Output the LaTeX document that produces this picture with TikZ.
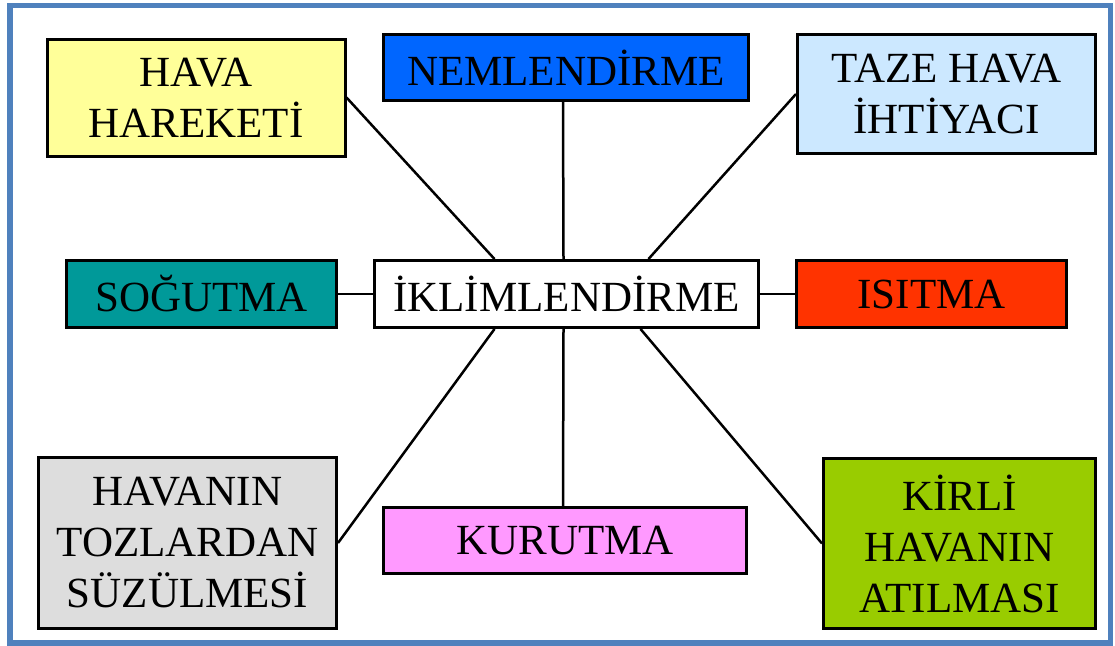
\documentclass[tikz,border=0pt]{standalone}
\usepackage{fontspec}
\setmainfont{Liberation Serif}
\usetikzlibrary{positioning}
\definecolor{framecol}{HTML}{4F81BD}
\definecolor{yel}{HTML}{FFFF99}
\definecolor{blu}{HTML}{0066FF}
\definecolor{lblu}{HTML}{CCE8FF}
\definecolor{teal}{HTML}{009999}
\definecolor{redd}{HTML}{FF3300}
\definecolor{gry}{HTML}{DDDDDD}
\definecolor{pnk}{HTML}{FF99FF}
\definecolor{grn}{HTML}{99CC00}
\begin{document}
\begin{tikzpicture}[x=1pt,y=-1pt,
  box/.style={draw,line width=3pt,align=center,inner sep=0pt,font=\fontsize{43}{51}\selectfont},
  link/.style={line width=2.5pt}]
\useasboundingbox (0,0) rectangle (1115,645);
\fill[white] (0,0) rectangle (1115,645);
\draw[framecol,line width=5.5pt] (10,5.5) rectangle (1110.5,643);
\node[box,fill=yel,minimum width=298pt,minimum height=117pt] (hava) at (196,97.5) {HAVA\\HAREKETİ};
\node[box,fill=blu,minimum width=365pt,minimum height=66pt] (nem) at (566,67.5) {NEMLENDİRME};
\node[box,fill=lblu,minimum width=298pt,minimum height=119pt] (taze) at (946.5,94) {TAZE HAVA\\İHTİYACI};
\node[box,fill=teal,minimum width=270pt,minimum height=67pt] (sog) at (201.5,294) {SOĞUTMA};
\node[box,fill=white,minimum width=384pt,minimum height=67pt] (ikl) at (566.5,294) {İKLİMLENDİRME};
\node[box,fill=redd,minimum width=270pt,minimum height=67pt] (isi) at (931.5,294) {ISITMA};
\node[box,fill=gry,minimum width=298pt,minimum height=171pt] (toz) at (187.5,543) {HAVANIN\\TOZLARDAN\\SÜZÜLMESİ};
\node[box,fill=pnk,minimum width=363pt,minimum height=66pt] (kur) at (565,540.5) {KURUTMA};
\node[box,fill=grn,minimum width=272pt,minimum height=170pt] (kir) at (959.5,543.5) {KİRLİ\\HAVANIN\\ATILMASI};
\draw[link] (hava.east) -- ([xshift=-72pt]ikl.north);
\draw[link] ([xshift=-3pt]nem.south) -- ([xshift=-3pt]ikl.north);
\draw[link] (taze.west) -- ([xshift=82pt]ikl.north);
\draw[link] (sog.east) -- (ikl.west);
\draw[link] (isi.west) -- (ikl.east);
\draw[link] (toz.east) -- ([xshift=-72pt]ikl.south);
\draw[link] ([xshift=-2pt]kur.north) -- ([xshift=-3pt]ikl.south);
\draw[link] (kir.west) -- ([xshift=74pt]ikl.south);
\end{tikzpicture}
\end{document}
